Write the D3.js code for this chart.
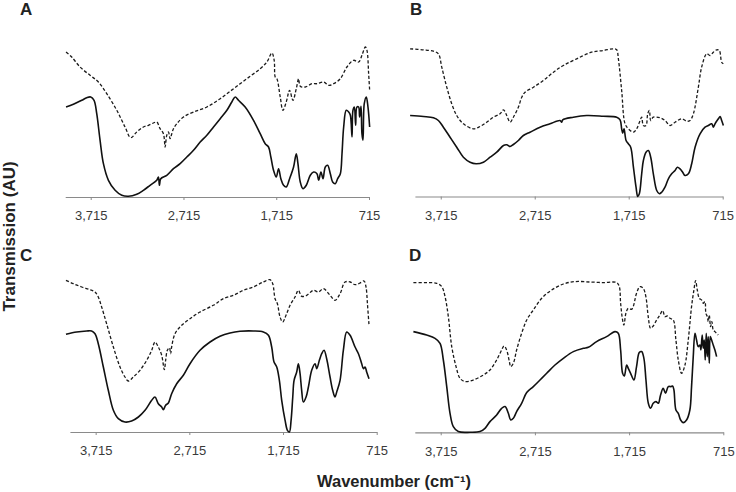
<!DOCTYPE html>
<html><head><meta charset="utf-8">
<script src="https://cdn.jsdelivr.net/npm/d3@7"></script>
<style>
html,body{margin:0;padding:0;background:#fff;}
svg{display:block;font-family:"Liberation Sans",Arial,Helvetica,sans-serif;}
</style></head>
<body><svg id="c" width="736" height="492"></svg>
<script>
// ---- data (wavenumber cm^-1, transmission AU) ----
const panelLabels = ["A","B","C","D"];
const tickValues = [3715, 2715, 1715, 715];
const xTitle = "Wavenumber (cm\u207B\u00B9)";
const yTitle = "Transmission (AU)";

const aDashed = [[3981,145],[3920,140],[3830,130],[3722,121.7],[3632,115],[3542,103.3],[3434,86.7],[3345,70],[3283,59.3],[3219,65],[3147,70],[3093,71.7],[3039,74],[3003,75],[2967,68.3],[2931,63.3],[2913,50],[2895,61.7],[2877,65],[2859,58.3],[2841,63.3],[2823,68.3],[2787,73.3],[2715,80],[2607,85],[2463,90],[2319,98.3],[2175,108.3],[2032,118.3],[1888,128.3],[1816,135],[1762,144],[1737,136.7],[1726,120],[1708,118.3],[1672,100],[1643,86.7],[1607,95],[1571,106.7],[1535,96.7],[1499,108.3],[1474,118.3],[1456,110.7],[1402,110],[1330,113.3],[1276,113.3],[1204,115],[1150,111.7],[1096,113.3],[1024,118.3],[953,130],[881,136.7],[827,135],[791,141.7],[755,150],[737,146.7],[719,123.3],[708,106.7]];
const aSolid = [[3981,90],[3902,92.7],[3812,96.7],[3758,99.3],[3715,100],[3679,96.7],[3650,83.3],[3614,56.7],[3578,33.3],[3524,16.7],[3452,6.7],[3380,1.7],[3309,0.7],[3219,2.7],[3147,6.7],[3075,11.7],[3003,16.7],[2985,20],[2974,11.7],[2960,18.3],[2895,21.7],[2823,28.3],[2751,33.3],[2679,40],[2607,46.7],[2535,55],[2463,61.7],[2391,70],[2319,78.3],[2247,86.7],[2194,95],[2158,100],[2122,96.7],[2050,90],[1960,76.7],[1888,63.3],[1834,53.3],[1798,50],[1773,40],[1744,26.7],[1715,20],[1690,28.3],[1665,18.3],[1636,11.7],[1607,10],[1571,18.3],[1528,30],[1499,43.3],[1481,33.3],[1456,15],[1427,8.3],[1391,11.7],[1348,21.7],[1312,25],[1276,23.3],[1258,16.7],[1233,25],[1211,18.3],[1186,30],[1161,31.7],[1132,23.3],[1107,15],[1078,13.3],[1053,18.3],[1024,23.3],[1006,43.3],[988,70],[960,86.7],[934,85],[916,81.7],[898,60],[888,86.7],[873,90],[859,71.7],[845,90],[827,90],[816,80],[801,90.7],[791,63.3],[780,56.7],[766,93.3],[744,100],[726,90],[708,70]];

const bDashed = [[4041,147.7],[3899,146.7],[3793,145.3],[3740,142.7],[3704,129.3],[3651,109.3],[3598,92.7],[3545,81],[3474,72.7],[3367,67.7],[3297,70],[3226,74.3],[3155,79.3],[3084,82.7],[3048,86.7],[3013,81],[2977,74.3],[2942,79.3],[2889,89.3],[2853,99.3],[2818,104.3],[2729,109.3],[2623,116],[2516,124.3],[2410,131],[2268,137.7],[2109,144.3],[1985,146],[1878,147.7],[1843,146.7],[1825,137.7],[1790,106],[1754,72.7],[1719,67.7],[1665,64.3],[1630,67.7],[1594,76],[1577,79.3],[1559,71],[1531,71],[1513,82.7],[1495,86],[1481,76],[1453,79.3],[1382,78.7],[1329,76],[1275,71],[1222,74.3],[1151,77.7],[1098,75.3],[1063,76],[1027,82.7],[974,109.3],[939,129.3],[885,142.7],[850,141],[814,144.3],[779,146.7],[751,146],[726,134.3],[708,132.7]];
const bSolid = [[4041,81],[3899,80],[3793,78.7],[3740,76],[3687,69.3],[3616,59.3],[3545,49.3],[3474,39.3],[3403,34.3],[3339,32.7],[3261,34.3],[3190,39.3],[3119,44.3],[3048,51],[3013,51.7],[2977,50],[2942,52],[2889,56],[2836,61],[2765,64.3],[2658,69.3],[2552,72.7],[2446,76],[2428,74.3],[2417,76.7],[2304,79.3],[2162,81],[1985,80.3],[1843,79.3],[1807,76.7],[1790,67.7],[1779,63.3],[1765,67.7],[1743,56],[1719,52.7],[1694,49.3],[1665,29.3],[1637,9.3],[1619,0],[1602,2.7],[1577,22.7],[1559,36],[1531,44.3],[1506,46],[1481,39.3],[1453,22.7],[1417,6],[1389,2.7],[1364,4.3],[1329,9.3],[1293,17.7],[1258,22.7],[1222,26],[1197,29.3],[1169,27.7],[1141,24.3],[1116,21],[1080,22.7],[1045,32.7],[1009,49.3],[956,62.7],[903,69.3],[868,71],[832,72.7],[814,69.3],[797,72.7],[761,77.7],[743,80],[726,76],[708,71]];

const cDashed = [[4032,151.7],[3953,148.3],[3864,145],[3775,142.3],[3722,140],[3687,135],[3651,125],[3598,108.3],[3526,85],[3455,65],[3402,55],[3366,51],[3313,55],[3242,61.7],[3170,71.7],[3117,81.7],[3082,90],[3046,85],[3010,76.7],[2982,62.3],[2968,71.7],[2950,81.7],[2928,84.3],[2914,78.3],[2904,85],[2868,98.3],[2797,106.7],[2708,113.3],[2601,120],[2459,126.7],[2352,133.3],[2245,136.7],[2138,141.7],[2032,145],[1925,150],[1854,152.3],[1825,148.3],[1800,133.3],[1775,128.3],[1747,115],[1718,110],[1683,116.7],[1640,126.7],[1587,135],[1551,141.7],[1516,135.7],[1462,136.7],[1391,141.7],[1338,140],[1284,143.3],[1213,136.7],[1160,131.7],[1106,138.3],[1053,150],[999,150],[946,147.3],[893,149],[850,151],[829,145],[814,128.3],[797,106.7]];
const cSolid = [[4032,97.7],[3918,100],[3811,101],[3758,101],[3722,98.3],[3687,88.3],[3633,65],[3580,41.7],[3526,21.7],[3473,13.3],[3402,10],[3331,11],[3259,15],[3188,21.7],[3117,31.7],[3082,35],[3046,28.3],[3010,25],[2993,22.3],[2968,26.7],[2939,29],[2904,38.3],[2850,48.3],[2779,56.7],[2708,68.3],[2601,81.7],[2494,90],[2388,95.7],[2281,99],[2174,100.7],[2032,101],[1925,100],[1871,96.7],[1836,85],[1811,70],[1782,65],[1754,51.7],[1729,31.7],[1693,11.7],[1668,1.7],[1647,0],[1629,11.7],[1611,35],[1597,51.7],[1569,60],[1551,68.3],[1533,58.3],[1516,41.7],[1498,30],[1469,35],[1444,45],[1409,61.7],[1373,68.3],[1355,63.3],[1327,71.7],[1302,78.3],[1277,81.7],[1249,73.3],[1213,55],[1185,41.7],[1160,35],[1142,40],[1106,51.7],[1071,81.7],[1035,100],[999,96.7],[946,85],[910,78.3],[875,68.3],[857,63.3],[839,65],[822,60],[797,53.3]];

const dDashed = [[4005,149.7],[3864,149.7],[3757,149],[3704,145.7],[3669,135.7],[3634,115.7],[3598,85.7],[3552,65.7],[3510,54],[3457,50.7],[3368,52.3],[3262,57.3],[3192,62.3],[3121,72.3],[3068,82.3],[3043,86.3],[3015,82.3],[2986,70.7],[2972,65.7],[2944,69],[2909,82.3],[2856,99],[2802,112.3],[2732,122.3],[2643,134],[2537,142.3],[2413,148.3],[2290,150.7],[2130,150.3],[1989,149.7],[1847,149.7],[1819,145.7],[1805,129],[1784,112.3],[1770,107.3],[1749,119],[1724,124],[1689,123],[1671,125.7],[1636,139],[1600,145.7],[1565,144],[1537,135.7],[1512,115.7],[1487,104],[1459,106.3],[1423,112.3],[1388,117.3],[1359,121.7],[1334,115.7],[1310,116.3],[1281,114],[1246,112.3],[1218,92.3],[1193,72.3],[1158,59],[1122,67.3],[1087,92.3],[1052,125.7],[1027,142.3],[1009,151.7],[991,142.3],[970,134],[946,132.3],[928,129],[910,130.7],[900,119],[885,115.7],[875,110.7],[864,117.3],[850,105.7],[836,110.7],[822,102.3],[804,100.7],[786,99],[769,97.3]];
const dSolid = [[4005,100.7],[3864,97.3],[3775,94],[3722,89],[3687,72.3],[3651,45.7],[3616,19],[3581,5.7],[3528,0.7],[3404,0],[3298,0.7],[3245,4],[3192,10.7],[3121,17.3],[3068,24],[3032,25.7],[2997,19],[2972,12.3],[2944,14],[2909,20.7],[2856,29],[2802,39.7],[2732,45.7],[2661,52.3],[2590,59],[2502,67.3],[2413,74],[2307,80.7],[2201,84],[2148,85],[2060,90.7],[1954,95.7],[1865,100.7],[1830,99],[1805,82.3],[1784,59],[1766,56.3],[1741,67.3],[1724,64],[1699,59],[1664,52.3],[1636,65.7],[1607,79.7],[1582,80.7],[1558,74],[1536,52.3],[1511,29],[1487,24],[1459,29],[1430,30.7],[1405,29],[1381,37.3],[1353,44],[1328,39],[1299,45.7],[1271,45.7],[1253,46.3],[1239,42.3],[1218,22.3],[1193,19],[1168,12.3],[1140,9.7],[1105,12.3],[1070,22.3],[1052,45.7],[1034,75.7],[1016,99],[999,92.3],[981,85.7],[963,87.3],[953,82.3],[939,97.3],[928,84],[917,92.3],[907,72.3],[896,99],[885,75.7],[875,95.7],[864,69],[853,95.7],[839,92.3],[822,87.3],[804,82.3],[786,75.7]];

// ---- layout (pixels) ----
const layout = [
  {x0: 65.2,  x1: 369.0, axisY: 197.0, lx: 20,  ly: 15},
  {x0: 414.9, x1: 722.7, axisY: 196.5, lx: 410, ly: 15},
  {x0: 69.9,  x1: 376.7, axisY: 432.0, lx: 20,  ly: 261},
  {x0: 414.8, x1: 723.3, axisY: 432.3, lx: 409, ly: 261}
];
const series = [[aSolid,aDashed],[bSolid,bDashed],[cSolid,cDashed],[dSolid,dDashed]];

const svg = d3.select("#c");
svg.append("rect").attr("width",736).attr("height",492).attr("fill","#fff");

layout.forEach((L, i) => {
  const x = d3.scaleLinear().domain([3990, 715]).range([L.x0, L.x1]);
  const y = d3.scaleLinear().domain([0, 150]).range([L.axisY, L.axisY - 150]);
  const g = svg.append("g");

  const ax = g.append("g").attr("transform", `translate(0,${L.axisY})`)
    .call(d3.axisBottom(x).tickValues(tickValues).tickFormat(d3.format(",")).tickSize(3).tickSizeOuter(0).tickPadding(11));
  ax.select(".domain").attr("stroke","#8a8a8a").attr("stroke-width",1.2);
  ax.selectAll(".tick line").attr("stroke","#8a8a8a").attr("stroke-width",1);
  ax.selectAll(".tick text").attr("fill","#3a3a3a").attr("font-size",13)
    .attr("font-family",'"Liberation Sans",Arial,sans-serif');

  const line = d3.line().x(d => x(d[0])).y(d => y(d[1])).curve(d3.curveCatmullRom.alpha(0.5));
  const [solid, dashed] = series[i];
  g.append("path").datum(dashed).attr("d", line).attr("fill","none")
    .attr("stroke","#1a1a1a").attr("stroke-width",1.3).attr("stroke-dasharray","3.2,2");
  g.append("path").datum(solid).attr("d", line).attr("fill","none")
    .attr("stroke","#111").attr("stroke-width",1.6).attr("stroke-linejoin","round");

  svg.append("text").attr("x", L.lx).attr("y", L.ly).text(panelLabels[i])
    .attr("font-size",17).attr("font-weight","bold").attr("fill","#222");
});

svg.append("text").attr("transform","translate(15,236.5) rotate(-90)")
  .attr("text-anchor","middle").attr("font-size",17).attr("font-weight","bold")
  .attr("fill","#222").text(yTitle);
svg.append("text").attr("x",394).attr("y",487).attr("text-anchor","middle")
  .attr("font-size",16.5).attr("font-weight","bold").attr("fill","#222").text(xTitle);
</script></body></html>
